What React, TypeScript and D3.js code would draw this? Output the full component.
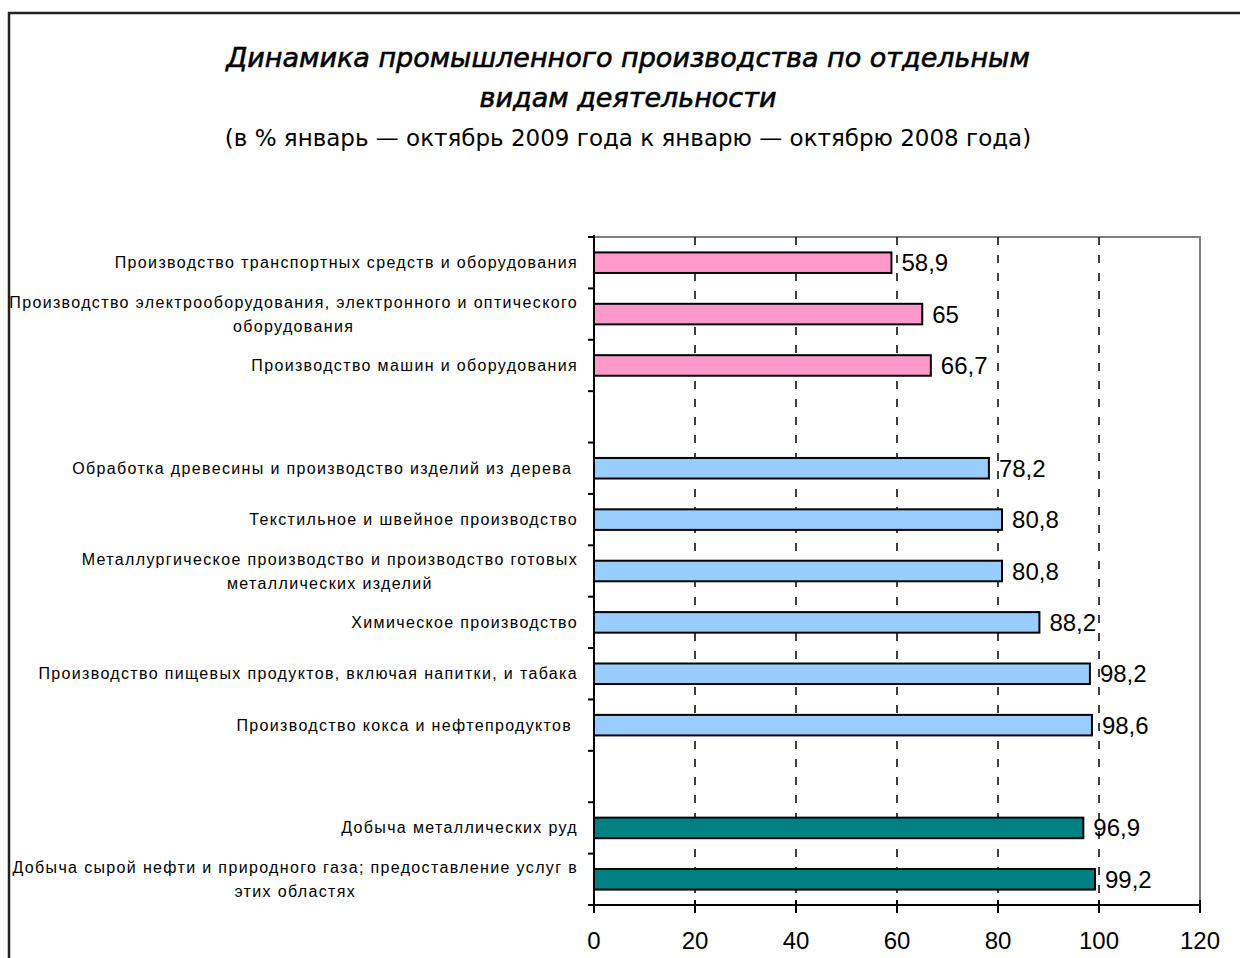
import * as d3 from "d3";
import {useEffect, useRef} from "react";

// categories top-to-bottom, "" = empty slot between groups
const categories = [
    "Производство транспортных средств и оборудования",
    "Производство электрооборудования, электронного и оптического\nоборудования",
    "Производство машин и оборудования",
    "",
    "Обработка древесины и производство изделий из дерева ",
    "Текстильное и швейное производство",
    "Металлургическое производство и производство готовых\nметаллических изделий",
    "Химическое производство",
    "Производство пищевых продуктов, включая напитки, и табака",
    "Производство кокса и нефтепродуктов ",
    "",
    "Добыча металлических руд",
    "Добыча сырой нефти и природного газа; предоставление услуг в\nэтих областях",
];
const values: (number | null)[] = [58.9, 65, 66.7, null, 78.2, 80.8, 80.8, 88.2, 98.2, 98.6, null, 96.9, 99.2];
const groups = ["machines", "machines", "machines", "", "light", "light", "light", "light", "light", "light", "", "mining", "mining"];
const groupNames = ["machines", "light", "mining"];
const groupColors = ["#FF99CC", "#99CCFF", "#008080"];
const xTicks = [0, 20, 40, 60, 80, 100, 120];
const gridTicks = [20, 40, 60, 80, 100];
const titleLines = ["Динамика промышленного производства по отдельным", "видам деятельности"];
const subtitle = "(в % январь — октябрь 2009 года к январю — октябрю 2008 года)";

const W = 1240;
const H = 958;

const App = () => {
    const svgRef = useRef(null);

    useEffect(() => {
        if (!svgRef.current) return;
        const root = d3.select(svgRef.current);
        root.selectAll("*").remove();

        const plot = {left: 594, right: 1200, top: 237, bottom: 905};

        const xScale = d3.scaleLinear().domain([0, 120]).range([plot.left, plot.right]);
        const yScale = d3.scaleBand<string>()
            .domain(categories.map((_, i) => String(i)))
            .range([plot.top, plot.bottom])
            .paddingInner(0.6)
            .paddingOuter(0.3);
        const color = d3.scaleOrdinal<string, string>().domain(groupNames).range(groupColors);

        // white background + outer frame
        root.append("rect").attr("width", W).attr("height", H).attr("fill", "#fff");
        root.append("rect")
            .attr("x", 9).attr("y", 13)
            .attr("width", 1300).attr("height", 1000)
            .attr("fill", "none")
            .attr("stroke", "#222")
            .attr("stroke-width", 2.5);

        // title
        const title = root.append("g").attr("fill", "#000").attr("text-anchor", "middle");
        title.selectAll("text.t")
            .data(titleLines)
            .enter()
            .append("text")
            .attr("class", "t")
            .attr("x", 628)
            .attr("y", (_, i) => 67 + i * 40)
            .attr("font-family", "DejaVu Sans, Verdana, sans-serif")
            .attr("font-style", "italic")
            .attr("font-size", 27)
            .attr("stroke", "#000")
            .attr("stroke-width", 0.6)
            .text(d => d);
        title.append("text")
            .attr("x", 628)
            .attr("y", 146)
            .attr("font-family", "DejaVu Sans, Verdana, sans-serif")
            .attr("font-size", 23)
            .text(subtitle);

        // plot area border (gray)
        root.append("rect")
            .attr("x", plot.left).attr("y", plot.top)
            .attr("width", plot.right - plot.left)
            .attr("height", plot.bottom - plot.top)
            .attr("fill", "none")
            .attr("stroke", "#808080")
            .attr("stroke-width", 2);

        // dashed vertical grid
        root.append("g")
            .selectAll("line")
            .data(gridTicks)
            .enter()
            .append("line")
            .attr("x1", d => xScale(d)).attr("x2", d => xScale(d))
            .attr("y1", plot.top).attr("y2", plot.bottom)
            .attr("stroke", "#000")
            .attr("stroke-width", 1.5)
            .attr("stroke-dasharray", "8,10");

        // bars
        const rows = categories.map((c, i) => ({key: String(i), label: c, value: values[i], group: groups[i]}));
        root.append("g")
            .selectAll("rect")
            .data(rows.filter(r => r.value !== null))
            .enter()
            .append("rect")
            .attr("x", xScale(0))
            .attr("y", d => yScale(d.key)!)
            .attr("width", d => xScale(d.value as number) - xScale(0))
            .attr("height", yScale.bandwidth())
            .attr("fill", d => color(d.group))
            .attr("stroke", "#000")
            .attr("stroke-width", 2);

        // y axis: line + outer ticks at slot boundaries
        const yAxis = root.append("g").attr("stroke", "#000").attr("stroke-width", 2);
        yAxis.append("line")
            .attr("x1", plot.left).attr("x2", plot.left)
            .attr("y1", plot.top - 2).attr("y2", plot.bottom + 1);
        yAxis.selectAll("line.tick")
            .data(d3.range(categories.length + 1))
            .enter()
            .append("line")
            .attr("class", "tick")
            .attr("x1", plot.left - 6).attr("x2", plot.left)
            .attr("y1", i => plot.top + i * yScale.step())
            .attr("y2", i => plot.top + i * yScale.step());

        // x axis: line + crossing ticks + labels
        const xAxis = root.append("g");
        xAxis.append("line")
            .attr("x1", plot.left - 6).attr("x2", plot.right + 1)
            .attr("y1", plot.bottom).attr("y2", plot.bottom)
            .attr("stroke", "#000").attr("stroke-width", 2);
        xAxis.selectAll("line.tick")
            .data(xTicks)
            .enter()
            .append("line")
            .attr("class", "tick")
            .attr("x1", d => xScale(d)).attr("x2", d => xScale(d))
            .attr("y1", plot.bottom - 5).attr("y2", plot.bottom + 8)
            .attr("stroke", "#000").attr("stroke-width", 2);
        xAxis.selectAll("text")
            .data(xTicks)
            .enter()
            .append("text")
            .attr("x", d => xScale(d))
            .attr("y", 949)
            .attr("text-anchor", "middle")
            .attr("font-family", "Liberation Sans, Arial, sans-serif")
            .attr("font-size", 24)
            .attr("fill", "#000")
            .text(d => String(d));

        // value labels
        root.append("g")
            .selectAll("text")
            .data(rows.filter(r => r.value !== null))
            .enter()
            .append("text")
            .attr("x", d => xScale(d.value as number) + 10)
            .attr("y", d => yScale(d.key)! + yScale.bandwidth() / 2 + 8.5)
            .attr("font-family", "Liberation Sans, Arial, sans-serif")
            .attr("font-size", 24)
            .attr("fill", "#000")
            .text(d => String(d.value).replace(".", ","));

        // category labels: lines centred on each other, block right-aligned
        const labelRight = 578;
        const labels = root.append("g");
        rows.filter(r => r.label !== "").forEach(r => {
            const lines = r.label.split("\n");
            const cy = yScale(r.key)! + yScale.bandwidth() / 2;
            const g = labels.append("g");
            const texts = g.selectAll("text")
                .data(lines)
                .enter()
                .append("text")
                .attr("y", (_, i) => cy + (i - (lines.length - 1) / 2) * 24 + 5.5)
                .attr("text-anchor", "middle")
                .attr("font-family", "Liberation Sans, Arial, sans-serif")
                .attr("font-size", 16)
                .attr("letter-spacing", 1.35)
                .attr("fill", "#000")
                .style("white-space", "pre")
                .text(d => d);
            let w = 0;
            texts.each(function () {
                w = Math.max(w, (this as SVGTextElement).getComputedTextLength());
            });
            texts.attr("x", labelRight - w / 2);
        });
    }, []);

    return <svg ref={svgRef} width={W} height={H}
                style={{position: "absolute", left: 0, top: 0, display: "block"}}></svg>;
};

export default App;
